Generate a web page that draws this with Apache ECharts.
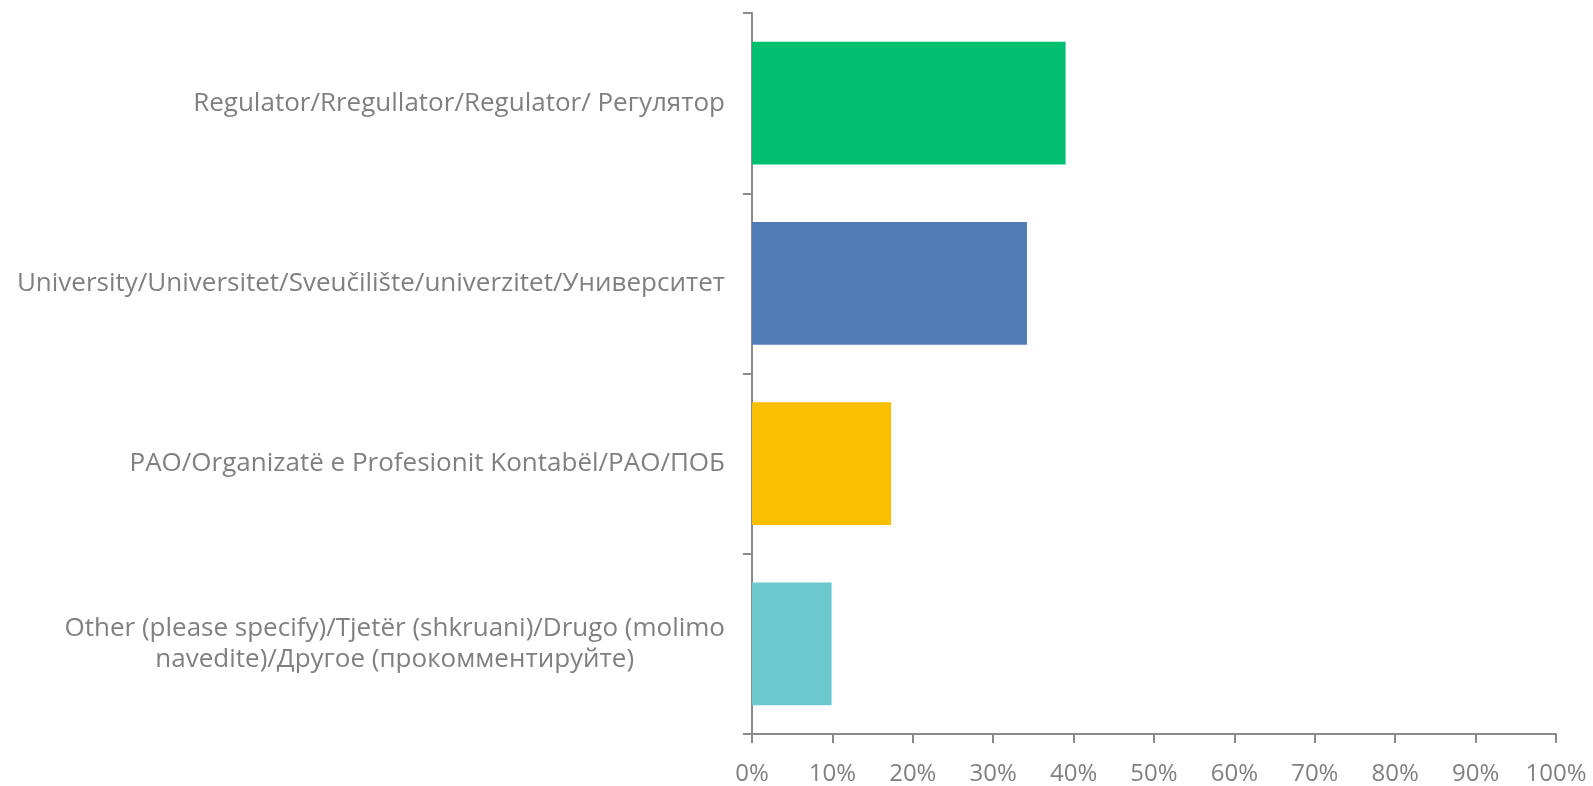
<!DOCTYPE html>
<html>
<head>
<meta charset="utf-8">
<script src="https://cdn.jsdelivr.net/npm/echarts@6/dist/echarts.min.js"></script>
<style>
html,body{margin:0;padding:0;background:#fff;}
#chart{width:1593px;height:786px;}
</style>
</head>
<body>
<div id="chart"></div>
<script>
const categories = [
  'Regulator/Rregullator/Regulator/ Регулятор',
  'University/Universitet/Sveučilište/univerzitet/Университет',
  'PAO/Organizatë e Profesionit Kontabël/PAO/ПОБ',
  'Other (please specify)/Tjetër (shkruani)/Drugo (molimo\nnavedite)/Другое (прокомментируйте)'
];
const values = [39.0, 34.2, 17.3, 9.9];
const barColors = ['#00BF6F', '#507CB6', '#F9BE00', '#6BC8CD'];
const xTicks = [0, 10, 20, 30, 40, 50, 60, 70, 80, 90, 100];

const font = '"Open Sans", "Noto Sans", sans-serif';
const textColor = '#808080';
const axisColor = '#8a8a8a';

const chart = echarts.init(document.getElementById('chart'));
chart.setOption({
  animation: false,
  backgroundColor: '#ffffff',
  grid: { left: 752, right: 37, top: 13, bottom: 51, containLabel: false },
  xAxis: {
    type: 'value',
    min: xTicks[0],
    max: xTicks[xTicks.length - 1],
    interval: 10,
    axisLine: { show: true, lineStyle: { color: axisColor, width: 2 } },
    axisTick: { show: true, length: 9, lineStyle: { color: axisColor, width: 2 } },
    splitLine: { show: false },
    axisLabel: {
      formatter: v => v + '%',
      color: textColor,
      fontSize: 24,
      fontFamily: font,
      margin: 28
    }
  },
  yAxis: {
    type: 'category',
    data: categories,
    inverse: true,
    axisLine: { show: true, lineStyle: { color: axisColor, width: 2 } },
    axisTick: { show: true, length: 9, alignWithLabel: false, lineStyle: { color: axisColor, width: 2 } },
    axisLabel: {
      color: textColor,
      fontSize: 26,
      fontFamily: font,
      margin: 27,
      lineHeight: 31,
      formatter: v => v.split('\n').map(s => '{c|' + s + '}').join('\n'),
      rich: {
        c: { align: 'center', color: textColor, fontSize: 26, fontFamily: font, lineHeight: 31 }
      }
    }
  },
  series: [{
    type: 'bar',
    data: values.map((v, i) => ({ value: v, itemStyle: { color: barColors[i] } })),
    barCategoryGap: '32%'
  }]
});
</script>
</body>
</html>
